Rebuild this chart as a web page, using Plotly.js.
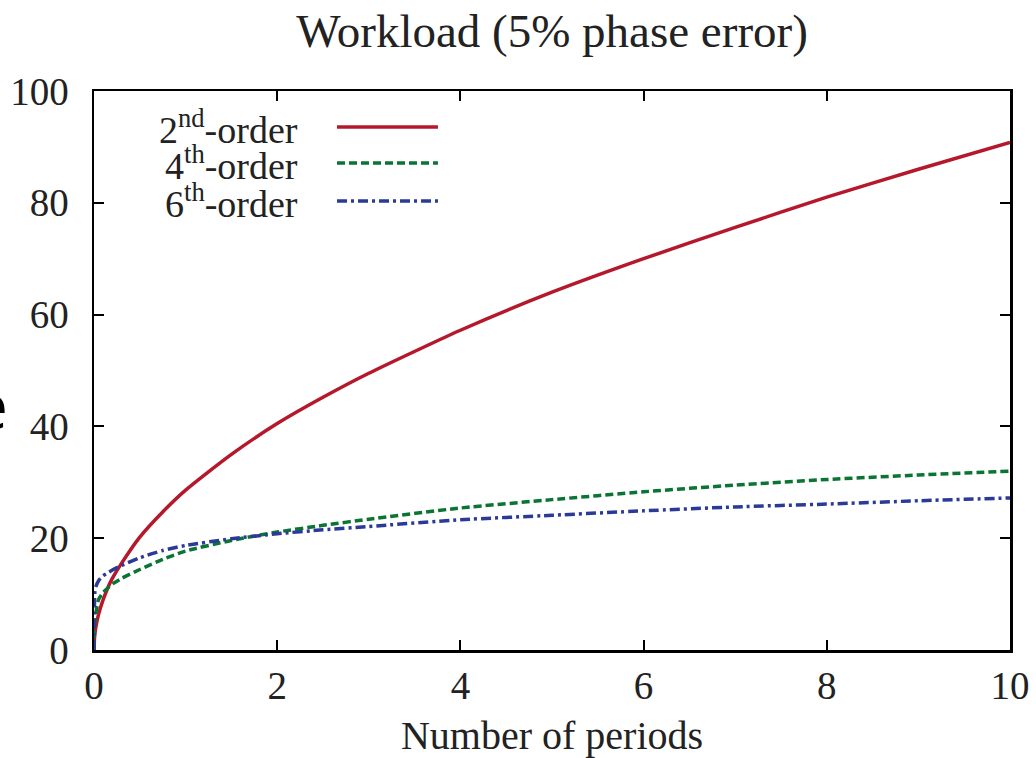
<!DOCTYPE html>
<html>
<head>
<meta charset="utf-8">
<script src="https://cdn.plot.ly/plotly-3.0.1.min.js"></script>
<style>
html,body{margin:0;padding:0;background:#fff;}
#chart{width:1036px;height:758px;}
</style>
</head>
<body>
<div id="chart"></div>
<script>
// ---- data ----
const periods = [0, 0.005, 0.01, 0.02, 0.05, 0.1, 0.15, 0.2, 0.3, 0.5, 0.75, 1, 1.5, 2, 2.5, 3, 4, 5, 6, 7, 8, 9, 10];
const order2 = [0, 2.0, 2.9, 4.1, 6.4, 9.0, 11.1, 12.8, 15.5, 20.2, 24.7, 28.6, 35.0, 40.5, 45.2, 49.5, 57.2, 64.0, 70.0, 75.6, 81.0, 86.0, 90.8];
const order4 = [0, 3.5, 5.0, 6.5, 9.0, 10.3, 11.1, 11.8, 12.8, 14.4, 16.2, 17.7, 19.6, 21.1, 22.3, 23.4, 25.4, 26.9, 28.3, 29.5, 30.5, 31.3, 32.0];
const order6 = [0, 8.0, 10.5, 11.3, 12.4, 13.3, 13.8, 14.3, 15.1, 16.5, 17.8, 18.7, 19.9, 20.8, 21.5, 22.1, 23.3, 24.1, 24.9, 25.6, 26.1, 26.7, 27.2];
const seriesNames = ["2<sup>nd</sup>-order", "4<sup>th</sup>-order", "6<sup>th</sup>-order"];
const seriesValues = [order2, order4, order6];
const xTicks = [0, 2, 4, 6, 8, 10];
const yTicks = [0, 20, 40, 60, 80, 100];

// ---- styling ----
const colors = ["#b5182b", "#0a7433", "#2b3a97"];
const dashes = ["solid", "8px,4px", "10px,4px,3px,4px"];
const FONT = "Liberation Serif";

const traces = seriesValues.map((vals, i) => ({
  x: periods,
  y: vals,
  type: "scatter",
  mode: "lines",
  name: seriesNames[i],
  line: {color: colors[i], width: 3.5, dash: dashes[i], shape: "spline", smoothing: 0.6},
  showlegend: false,
  cliponaxis: true
}));

// gnuplot-style legend: text right-aligned, line sample on the right
const legendRows = [0.9356, 0.8712, 0.8032];
const shapes = [];
const annotations = [];
seriesNames.forEach((nm, i) => {
  annotations.push({
    xref: "paper", yref: "paper", x: 0.2249, y: legendRows[i],
    xanchor: "right", yanchor: "middle", showarrow: false,
    text: nm, font: {family: FONT, size: 38, color: "#222"}
  });
  shapes.push({
    type: "line", xref: "paper", yref: "paper",
    x0: 0.2653, x1: 0.3755, y0: legendRows[i], y1: legendRows[i],
    line: {color: colors[i], width: 3.5, dash: dashes[i]}
  });
});
// cropped-off fragment of text at the left edge of the reference
annotations.push({
  xref: "paper", yref: "paper", x: -0.113, y: 0.44,
  xanchor: "center", yanchor: "middle", showarrow: false,
  text: "e", font: {family: "Open Sans", size: 64, color: "#000"}
});

const layout = {
  width: 1036, height: 758,
  margin: {l: 94, r: 26, t: 91, b: 108, pad: 0},
  paper_bgcolor: "#fff", plot_bgcolor: "#fff",
  font: {family: FONT},
  title: {
    text: "Workload (5% phase error)",
    x: 0.5, xref: "paper", xanchor: "center",
    y: 1 - 31/758, yref: "container", yanchor: "middle",
    font: {family: FONT, size: 47, color: "#222"}
  },
  xaxis: {
    range: [0, 10], tickvals: xTicks, ticktext: xTicks.map(String),
    showgrid: false, zeroline: false,
    showline: true, linecolor: "#000", linewidth: 2.5, mirror: "ticks",
    ticks: "inside", ticklen: 10, tickwidth: 2, tickcolor: "#000",
    tickfont: {family: FONT, size: 39, color: "#222"},
    title: {text: "Number of periods", font: {family: FONT, size: 40, color: "#222"}, standoff: 22}
  },
  yaxis: {
    range: [0, 100], tickvals: yTicks, ticktext: yTicks.map(String),
    showgrid: false, zeroline: false,
    showline: true, linecolor: "#000", linewidth: 2.5, mirror: "ticks",
    ticks: "inside", ticklen: 10, tickwidth: 2, tickcolor: "#000",
    tickfont: {family: FONT, size: 39, color: "#222"},
    ticklabelstandoff: 15
  },
  shapes: shapes,
  annotations: annotations,
  showlegend: false
};

Plotly.newPlot("chart", traces, layout, {staticPlot: true, displayModeBar: false});
</script>
</body>
</html>
